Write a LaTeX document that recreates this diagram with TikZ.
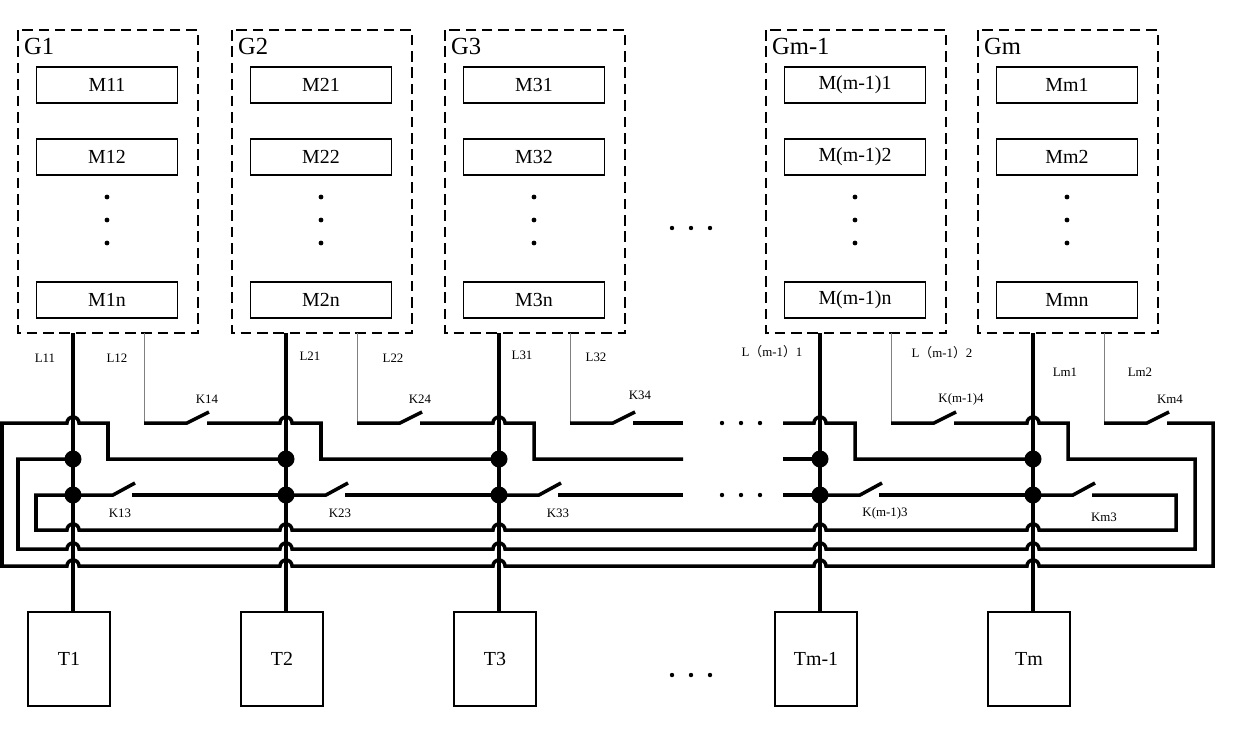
\documentclass[tikz,border=0pt]{standalone}
\usepackage{fontspec}
\setmainfont{Liberation Serif}
\newfontfamily\cjk{Noto Sans CJK SC}
\begin{document}
\begin{tikzpicture}[x=0.03cm,y=-0.03cm,
  wire/.style={line width=3pt},
  thin/.style={line width=0.5pt,gray},
  grp/.style={draw,line width=1.3pt,dash pattern=on 9pt off 5pt},
  mbox/.style={draw,line width=1pt,minimum width=141*0.03cm,minimum height=36*0.03cm,font=\fontsize{17}{17}\selectfont},
  tbox/.style={draw,line width=1pt,minimum width=82*0.03cm,minimum height=94*0.03cm,font=\fontsize{17}{17}\selectfont},
  lab/.style={font=\fontsize{11}{11}\selectfont},
  glab/.style={font=\fontsize{21}{21}\selectfont,anchor=west},
  dot/.style={circle,fill,inner sep=0,minimum size=17*0.03cm}]
\useasboundingbox (0,0) rectangle (1239,743);
% groups
\foreach \gx/\gn/\mi [count=\k] in {18/G1/1, 232/G2/2, 445/G3/3, 766/Gm-1/(m-1), 978/Gm/m}{
  \draw[grp] (\gx,30) rectangle ++(180,303);
  \node[glab] (g\k) at (\gx+2,46) {\gn};
  \node[mbox] (m\k a) at (\gx+89,85) {M\mi1};
  \node[mbox] (m\k b) at (\gx+89,157) {M\mi2};
  \node[mbox] (m\k n) at (\gx+89,300) {M\mi n};
  \foreach \yy in {197,220,243} \fill (\gx+89,\yy) circle (2.4);
}
% T boxes
\foreach \xx/\tn [count=\k] in {73/T1,286/T2,499/T3,820/Tm-1,1033/Tm}{
  \node[tbox] (t\k) at (\xx-4,659) {\tn};
}
% verticals
\foreach \xx [count=\k] in {73,286,499,820,1033}{
  \coordinate (v\k) at (\xx,333);
  \draw[wire] (v\k) -- (t\k.north -| v\k);
  \node[dot] at (\xx,459) {};
  \node[dot] at (\xx,495) {};
  \draw[thin] (\xx+71,333) -- (\xx+71,423);
}
% K4 switches (row 423)
\foreach \xx in {73,286,499,820,1033}{
  \draw[wire] (\xx+71,423) -- (\xx+114,423) -- (\xx+136,412);
}
\draw[wire] (73+134,423) -- (280,423) arc[start angle=180,end angle=360,radius=6] -- (321,423) -- (321,459) -- (499,459);
\draw[wire] (286+134,423) -- (493,423) arc[start angle=180,end angle=360,radius=6] -- (534,423) -- (534,459) -- (683,459);
\draw[wire] (499+134,423) -- (683,423);
\draw[wire] (783,423) -- (814,423) arc[start angle=180,end angle=360,radius=6] -- (855,423) -- (855,459) -- (1033,459);
\draw[wire] (783,459) -- (820,459);
\draw[wire] (820+134,423) -- (1027,423) arc[start angle=180,end angle=360,radius=6] -- (1068,423) -- (1068,459) -- (1195,459) -- (1195,549)
  foreach \xx in {1033,820,499,286,73}{ -- (\xx+6,549) arc[start angle=0,end angle=-180,radius=6] } -- (18,549) -- (18,459) -- (73,459);
\draw[wire] (1033+134,423) -- (1213,423) -- (1213,566)
  foreach \xx in {1033,820,499,286,73}{ -- (\xx+6,566) arc[start angle=0,end angle=-180,radius=6] } -- (2,566) -- (2,423) -- (67,423) arc[start angle=180,end angle=360,radius=6] -- (108,423) -- (108,459) -- (286,459);
% K3 switches (row 495)
\foreach \xx in {73,286,499,820,1033}{
  \draw[wire] (\xx,495) -- (\xx+40,495) -- (\xx+62,483);
}
\draw[wire] (73+59,495) -- (286,495);
\draw[wire] (286+59,495) -- (499,495);
\draw[wire] (499+59,495) -- (683,495);
\draw[wire] (783,495) -- (820,495);
\draw[wire] (820+59,495) -- (1033,495);
\draw[wire] (1033+59,495) -- (1176,495) -- (1176,530)
  foreach \xx in {1033,820,499,286,73}{ -- (\xx+6,530) arc[start angle=0,end angle=-180,radius=6] } -- (36,530) -- (36,495) -- (73,495);
% ellipses
\foreach \yy in {423,495}\foreach \xx in {722,741,760} \fill (\xx,\yy) circle (2.2);
\foreach \xx in {672,691,710} {\fill (\xx,228) circle (2.2); \fill (\xx,675) circle (2.2);}
% labels
\node[lab] at (45,358) {L11};
\node[lab] at (117,358) {L12};
\node[lab] at (310,356) {L21};
\node[lab] at (393,358) {L22};
\node[lab] at (522,355) {L31};
\node[lab] at (596,357) {L32};
\node[lab] at (772,352) {L{\cjk （}m-1{\cjk ）}1};
\node[lab] at (942,353) {L{\cjk （}m-1{\cjk ）}2};
\node[lab] at (1065,372) {Lm1};
\node[lab] at (1140,372) {Lm2};
\node[lab] at (207,399) {K14};
\node[lab] at (420,399) {K24};
\node[lab] at (640,395) {K34};
\node[lab] at (961,399) {K(m-1)4};
\node[lab] at (1170,399) {Km4};
\node[lab] at (120,513) {K13};
\node[lab] at (340,513) {K23};
\node[lab] at (558,513) {K33};
\node[lab] at (885,513) {K(m-1)3};
\node[lab] at (1104,517) {Km3};
\end{tikzpicture}
\end{document}
